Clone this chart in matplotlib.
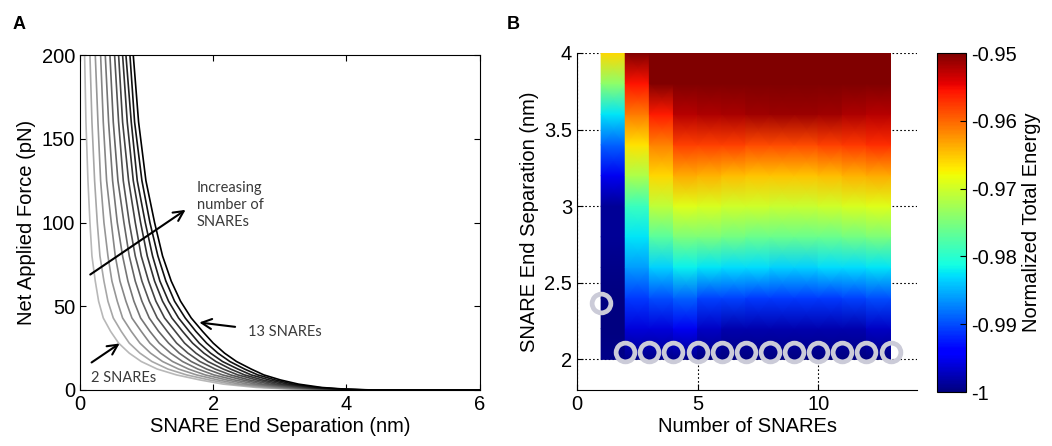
import numpy as np
import matplotlib
matplotlib.use("Agg")
import matplotlib.pyplot as plt
from matplotlib.ticker import FormatStrFormatter

plt.rcParams['font.family'] = ['Liberation Sans', 'DejaVu Sans']
plt.rcParams['axes.unicode_minus'] = False

# ---- panel A: force-separation curves, 2..13 SNAREs ----
force_levels = [200, 160, 125, 100, 80, 65, 53, 43, 35, 28, 22, 17, 12.5, 9, 6,
                3.5, 1.5, 0.5, 0, 0]
curve_n = list(range(2, 14))
# end separation (nm) at each force level, one row per number of SNAREs
curve_sep = [
    [0.07, 0.09, 0.12, 0.15, 0.18, 0.23, 0.28, 0.35, 0.46, 0.58, 0.74, 0.92, 1.16, 1.45, 1.80, 2.15, 2.65, 3.20, 3.70, 6.0],
    [0.15, 0.18, 0.22, 0.26, 0.30, 0.36, 0.42, 0.50, 0.62, 0.74, 0.90, 1.08, 1.32, 1.60, 1.94, 2.28, 2.76, 3.29, 3.78, 6.0],
    [0.23, 0.27, 0.31, 0.36, 0.42, 0.48, 0.56, 0.64, 0.77, 0.90, 1.06, 1.24, 1.48, 1.75, 2.07, 2.40, 2.87, 3.38, 3.86, 6.0],
    [0.31, 0.35, 0.40, 0.47, 0.53, 0.60, 0.69, 0.78, 0.92, 1.05, 1.21, 1.39, 1.63, 1.88, 2.20, 2.52, 2.97, 3.46, 3.93, 6.0],
    [0.38, 0.43, 0.49, 0.56, 0.64, 0.72, 0.81, 0.91, 1.05, 1.19, 1.36, 1.54, 1.77, 2.01, 2.32, 2.64, 3.07, 3.54, 4.00, 6.0],
    [0.45, 0.50, 0.57, 0.66, 0.74, 0.83, 0.93, 1.04, 1.18, 1.33, 1.49, 1.67, 1.90, 2.14, 2.44, 2.74, 3.16, 3.61, 4.07, 6.0],
    [0.52, 0.58, 0.65, 0.74, 0.83, 0.93, 1.04, 1.16, 1.31, 1.45, 1.62, 1.80, 2.03, 2.26, 2.54, 2.85, 3.25, 3.68, 4.13, 6.0],
    [0.58, 0.64, 0.73, 0.83, 0.92, 1.03, 1.14, 1.27, 1.43, 1.57, 1.74, 1.92, 2.15, 2.37, 2.65, 2.94, 3.34, 3.75, 4.19, 6.0],
    [0.64, 0.71, 0.80, 0.91, 1.01, 1.12, 1.24, 1.38, 1.54, 1.69, 1.86, 2.04, 2.26, 2.47, 2.74, 3.03, 3.41, 3.81, 4.25, 6.0],
    [0.69, 0.77, 0.86, 0.98, 1.09, 1.20, 1.33, 1.48, 1.64, 1.79, 1.96, 2.14, 2.37, 2.57, 2.84, 3.12, 3.49, 3.87, 4.30, 6.0],
    [0.75, 0.82, 0.93, 1.05, 1.17, 1.29, 1.42, 1.58, 1.74, 1.90, 2.07, 2.25, 2.47, 2.67, 2.93, 3.20, 3.56, 3.93, 4.35, 6.0],
    [0.80, 0.88, 0.99, 1.12, 1.24, 1.37, 1.51, 1.67, 1.84, 2.00, 2.17, 2.35, 2.57, 2.76, 3.01, 3.28, 3.63, 3.98, 4.40, 6.0],
]

# ---- panel B: normalized total energy map ----
sep_nm = [2.0, 2.2, 2.4, 2.6, 2.8, 3.0, 3.2, 3.4, 3.6, 3.8, 4.0]
n_snares = list(range(1, 14))
# one row per column (N = 1..12), values at sep_nm
energy = [
    [-0.9995, -1.0, -1.0, -0.9995, -0.999, -0.999, -0.995, -0.989, -0.9825, -0.974, -0.966],
    [-0.9995, -0.996, -0.991, -0.986, -0.9825, -0.979, -0.972, -0.9665, -0.961, -0.9555, -0.949],
    [-0.9995, -0.996, -0.990, -0.9835, -0.977, -0.971, -0.966, -0.9615, -0.956, -0.950, -0.949],
    [-0.9995, -0.995, -0.989, -0.982, -0.975, -0.969, -0.9635, -0.958, -0.9525, -0.949, -0.949],
    [-1.0, -0.997, -0.9905, -0.9825, -0.975, -0.9695, -0.964, -0.958, -0.952, -0.949, -0.949],
    [-1.0, -0.998, -0.9905, -0.983, -0.9755, -0.970, -0.9645, -0.958, -0.9518, -0.949, -0.949],
    [-1.0, -0.998, -0.991, -0.983, -0.976, -0.970, -0.965, -0.9585, -0.9515, -0.949, -0.949],
    [-1.0, -0.998, -0.991, -0.9835, -0.976, -0.9705, -0.965, -0.9585, -0.9512, -0.949, -0.949],
    [-1.0, -0.998, -0.991, -0.9835, -0.976, -0.9705, -0.965, -0.9585, -0.9512, -0.949, -0.949],
    [-1.0, -0.998, -0.991, -0.983, -0.976, -0.970, -0.9645, -0.958, -0.9515, -0.949, -0.949],
    [-1.0, -0.998, -0.9905, -0.983, -0.9755, -0.9695, -0.964, -0.9575, -0.952, -0.949, -0.949],
    [-1.0, -0.997, -0.990, -0.9825, -0.975, -0.969, -0.9635, -0.957, -0.9525, -0.949, -0.949],
]
# separation of minimum energy for each N
opt_sep = [2.37, 2.05, 2.05, 2.05, 2.05, 2.05, 2.05, 2.05, 2.05, 2.05, 2.05, 2.05, 2.05]
cbar_ticks = [-1.0, -0.99, -0.98, -0.97, -0.96, -0.95]

FS = 14.5
ANNOT = dict(family=['Lato', 'DejaVu Sans'], fontsize=10.5, color='#3a3a3a')

fig = plt.figure(figsize=(10.52, 4.46), dpi=100)

# ---------- A ----------
axA = fig.add_axes([0.076, 0.1256, 0.380, 0.751])
greys = np.linspace(0.72, 0.0, len(curve_n))
for sep, g in zip(curve_sep, greys):
    axA.plot(sep, force_levels, color=str(g), lw=1.2, solid_joinstyle='round')
axA.set_xlim(0, 6)
axA.set_ylim(0, 200)
axA.set_xticks([0, 2, 4, 6])
axA.set_yticks([0, 50, 100, 150, 200])
axA.tick_params(direction='in', top=True, right=True, labelsize=FS, length=4)
axA.set_xlabel('SNARE End Separation (nm)', fontsize=FS, labelpad=2)
axA.set_ylabel('Net Applied Force (pN)', fontsize=FS, labelpad=4)

arrow = dict(arrowstyle='->', lw=1.5, color='k', mutation_scale=18)
axA.annotate('', xy=(1.62, 108.5), xytext=(0.12, 68), arrowprops=arrow)
axA.text(1.75, 125, 'Increasing\nnumber of\nSNAREs', ha='left', va='top',
         linespacing=1.3, **ANNOT)
axA.annotate('', xy=(1.75, 40.5), xytext=(2.37, 37.5), arrowprops=arrow)
axA.text(2.52, 34.5, '13 SNAREs', ha='left', va='center', **ANNOT)
axA.annotate('', xy=(0.63, 28.7), xytext=(0.14, 15.5), arrowprops=arrow)
axA.text(0.16, 7, '2 SNAREs', ha='left', va='center', **ANNOT)

# ---------- B ----------
axB = fig.add_axes([0.5485, 0.1256, 0.3232, 0.7556])
y = np.array(sep_nm)
mesh = None
for i, col in enumerate(energy):
    n0 = n_snares[i]
    X = np.column_stack([np.full_like(y, n0), np.full_like(y, n0 + 1)])
    Y = np.column_stack([y, y])
    C = np.column_stack([col, col])
    mesh = axB.pcolormesh(X, Y, C, shading='gouraud', cmap='jet',
                          vmin=-1.0, vmax=-0.95, zorder=2)
axB.plot(n_snares, opt_sep, 'o', ms=13.5, mfc='none', mec='#cbcbd8', mew=3.4,
         zorder=3, clip_on=False)

axB.set_xlim(0, 14.1)
axB.set_ylim(1.8, 4.0)
axB.set_xticks([0, 5, 10])
axB.set_yticks([2, 2.5, 3, 3.5, 4])
axB.yaxis.set_major_formatter(FormatStrFormatter('%g'))
axB.tick_params(direction='in', labelsize=FS, length=4)
axB.spines['top'].set_visible(False)
axB.spines['right'].set_visible(False)
axB.set_axisbelow(True)
axB.grid(True, ls=(0, (1.5, 2)), color='k', lw=0.8)
axB.set_xlabel('Number of SNAREs', fontsize=FS, labelpad=2)
axB.set_ylabel('SNARE End Separation (nm)', fontsize=FS, labelpad=4)

cax = fig.add_axes([0.8907, 0.121, 0.0276, 0.760])
cb = fig.colorbar(mesh, cax=cax, ticks=cbar_ticks)
cb.ax.yaxis.set_major_formatter(FormatStrFormatter('%g'))
cb.ax.tick_params(direction='in', labelsize=FS, length=4)
cb.outline.set_linewidth(0.8)
cb.set_label('Normalized Total Energy', fontsize=FS, labelpad=4)

fig.text(0.012, 0.935, 'A', fontsize=13, fontweight='bold')
fig.text(0.482, 0.935, 'B', fontsize=13, fontweight='bold')

fig.savefig('out.png', dpi=100)
